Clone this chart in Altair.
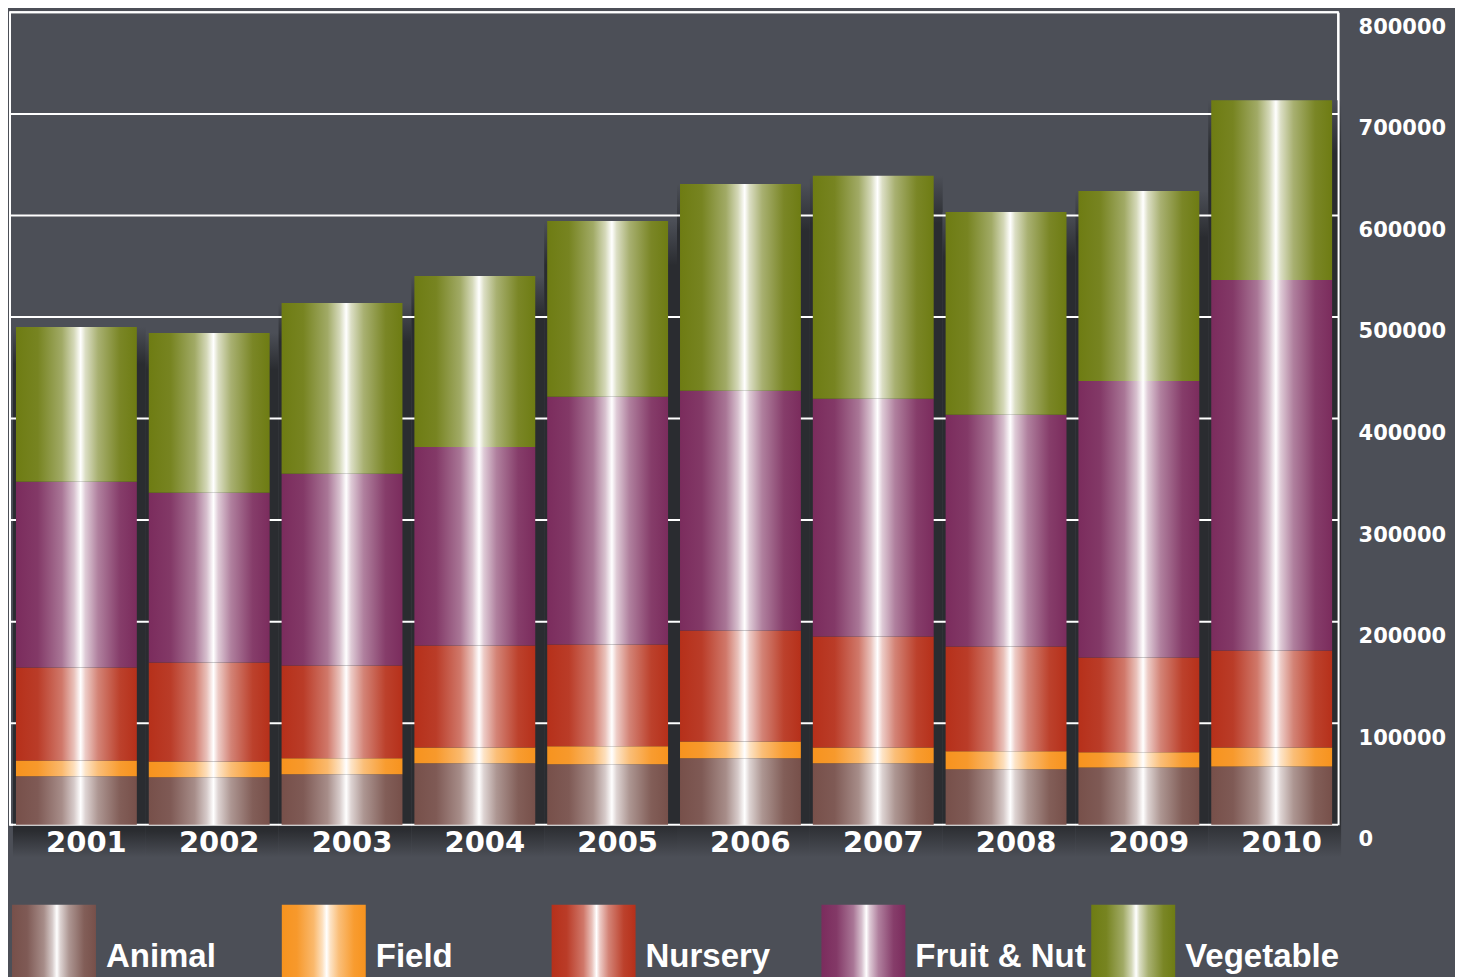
import altair as alt
import pandas as pd

years = ["2001", "2002", "2003", "2004", "2005", "2006", "2007", "2008", "2009", "2010"]
categories = ["Animal", "Field", "Nursery", "Fruit & Nut", "Vegetable"]
animal = [47700, 46700, 49700, 60500, 59500, 65400, 60500, 54600, 56500, 57500]
field = [15700, 15700, 15700, 15700, 17700, 16700, 15700, 17700, 14800, 18700]
nursery = [91500, 97400, 91500, 100300, 100300, 109200, 109200, 103300, 93400, 95400]
fruit_nut = [182900, 167200, 188800, 195600, 243900, 236000, 234000, 228100, 272400, 364800]
vegetable = [152400, 157300, 168200, 168300, 173100, 203700, 219600, 199600, 186900, 177100]
y_ticks = [0, 100000, 200000, 300000, 400000, 500000, 600000, 700000, 800000]

series = [animal, field, nursery, fruit_nut, vegetable]
base_colors = ["#77504a", "#f7931e", "#b6301a", "#7b2c5d", "#6e7c13"]

rows = []
for ci, (cat, vals) in enumerate(zip(categories, series)):
    for y, v in zip(years, vals):
        rows.append({"year": y, "category": cat, "order": ci, "value": v})
df = pd.DataFrame(rows)
grid_df = pd.DataFrame({"v": y_ticks})
legend_df = pd.DataFrame({"category": categories})

BG = "#4c4f57"
DARK = "#2a2c30"
W, H = 1329, 813


def mix(c, t):
    r, g, b = int(c[1:3], 16), int(c[3:5], 16), int(c[5:7], 16)
    r = round(r + (255 - r) * t)
    g = round(g + (255 - g) * t)
    b = round(b + (255 - b) * t)
    return "#%02x%02x%02x" % (r, g, b)


def metal(c):
    pts = [(0, 0.0), (0.18, 0.06), (0.38, 0.35), (0.48, 0.7), (0.535, 1.0),
           (0.575, 0.75), (0.68, 0.4), (0.86, 0.08), (1.0, 0.0)]
    return alt.LinearGradient(
        gradient="linear", x1=0, x2=1, y1=0, y2=0,
        stops=[alt.GradientStop(color=mix(c, t), offset=o) for o, t in pts],
    )


shadow_grad = alt.LinearGradient(
    gradient="linear", x1=0, x2=0, y1=0, y2=1,
    stops=[
        alt.GradientStop(color=BG, offset=0),
        alt.GradientStop(color=DARK, offset=0.07),
        alt.GradientStop(color=DARK, offset=0.95),
        alt.GradientStop(color=BG, offset=1),
    ],
)

x_enc = alt.X(
    "year:N", sort=years, title=None,
    scale=alt.Scale(paddingInner=0.09, paddingOuter=0.045),
    axis=alt.Axis(labelAngle=0, domain=False, ticks=False, labelColor="white",
                  labelFont="DejaVu Sans", labelFontWeight="bold", labelFontSize=29,
                  labelPadding=4, labelOffset=10, zindex=1),
)
y_scale = alt.Scale(domain=[0, 800000], nice=False, zero=True)
y_axis = alt.Axis(orient="right", values=y_ticks, format="d", grid=False,
                  domain=True, domainColor="white", domainWidth=2, zindex=1,
                  ticks=False, labelColor="white",
                  labelFont="DejaVu Sans", labelFontWeight="bold",
                  labelFontSize=21, labelPadding=20, labelOffset=15,
                  labelBaseline="middle", labelAlign="left", title=None)

shadow = alt.Chart(df).transform_aggregate(
    total="sum(value)", groupby=["year"]
).transform_calculate(
    base="-32000"
).mark_bar(width=133, xOffset=3, fill=shadow_grad).encode(
    x=x_enc,
    y=alt.Y("total:Q", scale=y_scale, axis=y_axis, title=None),
    y2=alt.Y2("base:Q"),
)

grid = alt.Chart(grid_df).mark_rule(color="white", strokeWidth=2).encode(
    y=alt.Y("v:Q", scale=y_scale, axis=y_axis, title=None),
)

bars = []
for cat, col in zip(categories, base_colors):
    b = alt.Chart(df).transform_stack(
        stack="value", groupby=["year"], as_=["v0", "v1"],
        sort=[alt.SortField("order", order="ascending")],
    ).transform_filter(
        alt.datum.category == cat
    ).mark_bar(fill=metal(col)).encode(
        x=x_enc,
        y=alt.Y("v1:Q", scale=y_scale, axis=y_axis, title=None),
        y2="v0:Q",
    )
    bars.append(b)

main = alt.layer(shadow, grid, *bars).properties(
    width=W, height=H,
    view=alt.ViewBackground(stroke="white", strokeWidth=2),
)

leg_x = alt.X("category:N", sort=categories, axis=None, title=None,
              scale=alt.Scale(domain=categories, paddingInner=0, paddingOuter=0))
leg_layers = []
for cat, col in zip(categories, base_colors):
    leg_layers.append(
        alt.Chart(legend_df).transform_filter(alt.datum.category == cat)
        .mark_bar(width=84, xOffset=-91, fill=metal(col))
        .encode(x=leg_x)
    )
leg_text = alt.Chart(legend_df).mark_text(
    align="left", baseline="alphabetic", dx=-39, dy=22, color="white",
    font="Liberation Sans", fontWeight="bold", fontSize=33,
).encode(x=leg_x, text="category:N")

legend = alt.layer(*leg_layers, leg_text).properties(
    width=1350, height=80,
    view=alt.ViewBackground(strokeWidth=0),
)

chart = alt.vconcat(main, legend, spacing=46).properties(
    background=BG,
    padding={"left": 0, "top": 2, "right": 8, "bottom": 0},
)

chart.save("out.html", embed_options={"renderer": "svg", "actions": False})
